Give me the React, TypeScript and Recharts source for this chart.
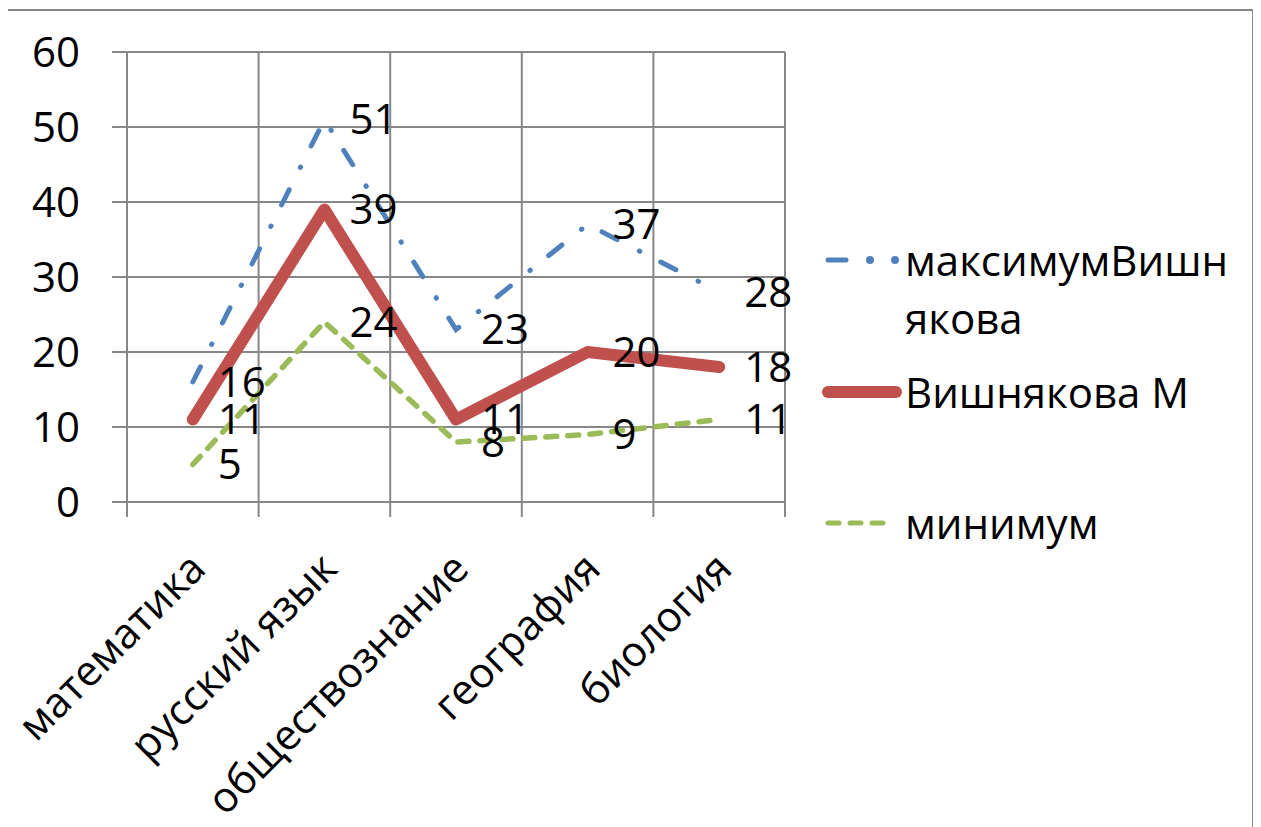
import React from 'react';
import { LineChart, Line, XAxis, YAxis, CartesianGrid, Legend } from 'recharts';

const subjects = ['математика', 'русский язык', 'обществознание', 'география', 'биология'];
const maxScores = [16, 51, 23, 37, 28];
const studentScores = [11, 39, 11, 20, 18];
const minScores = [5, 24, 8, 9, 11];
const yTicks = [0, 10, 20, 30, 40, 50, 60];

const maxName = 'максимумВишнякова';
const studentName = 'Вишнякова М';
const minName = 'минимум';

const BLUE = '#4F81BD';
const RED = '#C0504D';
const GREEN = '#9BBB59';
const GRID = '#878787';
const FONT = 42;

// numeric x so that gridlines can sit between categories
const chartData = subjects.map((subject, i) => ({
  subject,
  pos: i + 0.5,
  max: maxScores[i],
  student: studentScores[i],
  min: minScores[i],
}));
const boundaryTicks = [...subjects.map((_, i) => i), subjects.length];
const centerTicks = chartData.map(d => d.pos);

const SubjectTick = (props: any) => {
  const { x, y, payload } = props;
  const name = subjects[Math.floor(payload.value)];
  const ax = x + 15;
  const ay = y + 68;
  return (
    <text x={ax} y={ay} transform={`rotate(-45, ${ax}, ${ay})`} textAnchor="end" fontSize={FONT} fill="#000">
      {name}
    </text>
  );
};

const legendRows = [
  { name: maxName, top: 0, icon: 'max' },
  { name: studentName, top: 132, icon: 'student' },
  { name: minName, top: 263, icon: 'min' },
];

const LegendIcon = ({ kind }: { kind: string }) => (
  <svg width={80} height={20} style={{ position: 'absolute', left: 0, top: 19 }}>
    {kind === 'max' && (
      <g fill={BLUE} stroke={BLUE} strokeWidth={5} strokeLinecap="round">
        <line x1={6} y1={10} x2={24} y2={10} />
        <circle cx={48} cy={10} r={1.5} />
        <circle cx={73} cy={10} r={1.5} />
      </g>
    )}
    {kind === 'student' && <line x1={6} y1={10} x2={74} y2={10} stroke={RED} strokeWidth={12} strokeLinecap="round" />}
    {kind === 'min' && (
      <line x1={6} y1={10} x2={70} y2={10} stroke={GREEN} strokeWidth={5} strokeLinecap="round" strokeDasharray="11 11" />
    )}
  </svg>
);

const renderLegend = () => (
  <div style={{ position: 'relative', width: 420, height: 330 }}>
    {legendRows.map(r => (
      <div key={r.name} style={{ position: 'absolute', left: 0, top: r.top, width: 420 }}>
        <LegendIcon kind={r.icon} />
        <div style={{ marginLeft: 83, width: 330, fontSize: FONT, lineHeight: '58px', wordBreak: 'break-all', color: '#000' }}>
          {r.name}
        </div>
      </div>
    ))}
  </div>
);

export default function App() {
  return (
    <div style={{ marginLeft: -4, marginTop: 1, width: 1246, height: 836, border: `2px solid ${GRID}`, fontFamily: '"Open Sans", sans-serif', background: '#fff' }}>
      <LineChart width={1246} height={836} data={chartData} margin={{ top: 41, right: 467, left: 0, bottom: 0 }}>
        <CartesianGrid xAxisId="grid" stroke={GRID} strokeWidth={2} />
        <XAxis
          xAxisId="grid"
          type="number"
          dataKey="pos"
          domain={[0, subjects.length]}
          ticks={boundaryTicks}
          allowDataOverflow
          height={1}
          axisLine={false}
          tickLine={{ stroke: GRID, strokeWidth: 2 }}
          tickSize={15}
          tick={() => <g />}
        />
        <XAxis
          xAxisId="label"
          type="number"
          dataKey="pos"
          domain={[0, subjects.length]}
          ticks={centerTicks}
          allowDataOverflow
          height={344}
          axisLine={false}
          tickLine={false}
          tickSize={0}
          tickMargin={0}
          interval={0}
          tick={<SubjectTick />}
        />
        <YAxis
          type="number"
          domain={[0, 60]}
          ticks={yTicks}
          width={121}
          axisLine={false}
          tickLine={{ stroke: GRID, strokeWidth: 2 }}
          tickSize={15}
          tickMargin={32}
          tick={{ fontSize: FONT, fill: '#000' }}
        />
        <Legend layout="vertical" align="center" verticalAlign="middle" content={renderLegend} wrapperStyle={{ left: 816, top: 220, width: 420 }} />
        <Line
          xAxisId="label"
          type="linear"
          dataKey="max"
          name={maxName}
          stroke={BLUE}
          strokeWidth={5}
          strokeLinecap="round"
          strokeDasharray="17 25 0.5 23.5"
          dot={false}
          activeDot={false}
          isAnimationActive={false}
          label={{ position: 'right', offset: 25, fontSize: FONT, fill: '#000' }}
        />
        <Line
          xAxisId="label"
          type="linear"
          dataKey="student"
          name={studentName}
          stroke={RED}
          strokeWidth={12}
          strokeLinecap="round"
          strokeLinejoin="round"
          dot={false}
          activeDot={false}
          isAnimationActive={false}
          label={{ position: 'right', offset: 25, fontSize: FONT, fill: '#000' }}
        />
        <Line
          xAxisId="label"
          type="linear"
          dataKey="min"
          name={minName}
          stroke={GREEN}
          strokeWidth={5.5}
          strokeLinecap="round"
          strokeDasharray="11 11"
          dot={false}
          activeDot={false}
          isAnimationActive={false}
          label={{ position: 'right', offset: 25, fontSize: FONT, fill: '#000' }}
        />
      </LineChart>
    </div>
  );
}
